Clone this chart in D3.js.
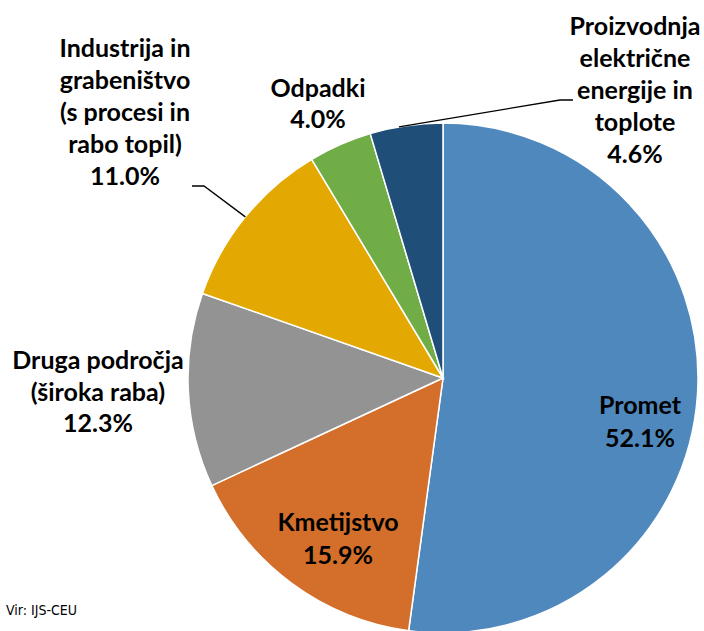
<!DOCTYPE html>
<html>
<head>
<meta charset="utf-8">
<script src="https://cdn.jsdelivr.net/npm/d3@7"></script>
<style>
  body { margin: 0; background: #fff; }
  svg { display: block; }
</style>
</head>
<body>
<svg id="chart"></svg>
<script>
// sector names (as lines) and shares, clockwise from 12 o'clock
const sectors = ["Promet", "Kmetijstvo", "Druga področja", "Industrija", "Odpadki", "Proizvodnja"];
const shares = [52.1, 15.9, 12.3, 11.0, 4.0, 4.6];
const labelLines = [
    ["Promet"],
    ["Kmetijstvo"],
    ["Druga področja", "(široka raba)"],
    ["Industrija in", "grabeništvo", "(s procesi in", "rabo topil)"],
    ["Odpadki"],
    ["Proizvodnja", "električne", "energije in", "toplote"]
];
const colors = ["#4F88BD", "#D36F2B", "#939393", "#E3A902", "#71AD47", "#1F4E79"];

const width = 704, height = 631;
const cx = 443, cy = 378, r = 255;

// label placement: [x centre, first baseline, line step]
const labelPos = [
    [640, 414, 33],
    [338, 531, 33],
    [98, 369, 31.5],
    [125, 57, 32],
    [318, 97, 31],
    [635, 35, 32]
];

const svg = d3.select("#chart")
    .attr("width", width)
    .attr("height", height);

const data = sectors.map((s, i) => ({ name: s, value: shares[i], lines: labelLines[i] }));

const pie = d3.pie().sort(null).value(d => d.value);
const arc = d3.arc().innerRadius(0).outerRadius(r);
const arcs = pie(data);

const g = svg.append("g").attr("transform", `translate(${cx}, ${cy})`);

g.selectAll("path")
    .data(arcs)
    .join("path")
    .attr("d", arc)
    .attr("fill", (d, i) => colors[i])
    .attr("stroke", "#fff")
    .attr("stroke-width", 1.5);

// leader lines for the two small outside labels
const leaders = [
    { i: 3, elbow: [[192, 186], [204, 186]], frac: 0.5 },
    { i: 5, elbow: [[573, 100], [560, 100]], frac: 0.4 }
];
leaders.forEach(l => {
    const a = arcs[l.i];
    const ang = a.startAngle + (a.endAngle - a.startAngle) * l.frac;
    const px = cx + r * Math.sin(ang), py = cy - r * Math.cos(ang);
    svg.append("polyline")
        .attr("points", [...l.elbow, [px, py]].map(p => p.join(",")).join(" "))
        .attr("fill", "none")
        .attr("stroke", "#000")
        .attr("stroke-width", 1.3);
});

const labels = svg.selectAll("text.lbl")
    .data(data)
    .join("text")
    .attr("class", "lbl")
    .attr("text-anchor", "middle")
    .style("font-family", "Lato, 'Open Sans', sans-serif")
    .style("font-weight", "bold")
    .style("font-size", "25px")
    .attr("fill", "#000");

labels.each(function(d, i) {
    const [x, y0, step] = labelPos[i];
    const t = d3.select(this);
    const lines = d.lines.concat([d.value.toFixed(1) + "%"]);
    lines.forEach((ln, k) => {
        t.append("tspan")
            .attr("x", x)
            .attr("y", y0 + k * step)
            .text(ln);
    });
});

svg.append("text")
    .attr("x", 6)
    .attr("y", 615)
    .style("font-family", "'DejaVu Sans Condensed', 'DejaVu Sans', sans-serif")
    .style("font-size", "14px")
    .attr("fill", "#000")
    .text("Vir: IJS-CEU");
</script>
</body>
</html>
